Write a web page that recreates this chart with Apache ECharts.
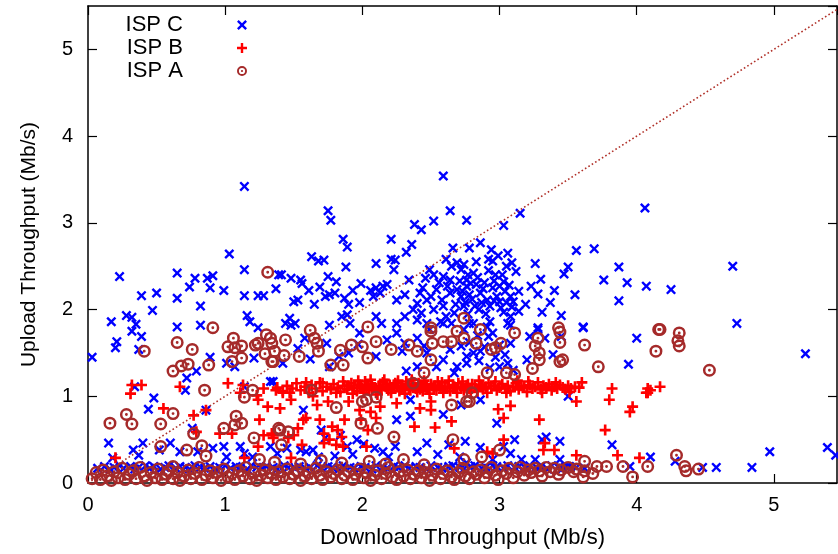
<!DOCTYPE html>
<html>
<head>
<meta charset="utf-8">
<script src="https://cdn.jsdelivr.net/npm/echarts@6/dist/echarts.min.js"></script>
<style>html,body{margin:0;padding:0;background:#fff}#c{width:838px;height:554px}</style>
</head>
<body>
<div id="c"></div>
<script>
// ---- data (Download Mb/s, Upload Mb/s) ----
const xTicks = [0, 1, 2, 3, 4, 5];
const yTicks = [0, 1, 2, 3, 4, 5];
const diagonal = [[0, 0], [5.5, 5.5]];

const ispC_upper = [[1.14,3.42],[0.23,2.38],[0.65,2.42],[0.78,2.36],[0.87,2.36],[0.91,2.39],[0.74,2.26],[0.89,2.25],[0.99,2.22],[1.03,2.64],[1.14,2.46],[0.39,2.16],[0.50,2.19],[0.65,2.13],[0.82,2.04],[0.47,1.99],[1.14,2.16],[1.24,2.16],[1.28,2.16],[1.37,2.24],[1.39,2.40],[0.17,1.86],[0.28,1.93],[0.32,1.91],[0.35,1.83],[0.65,1.80],[0.82,1.82],[1.16,1.93],[1.18,1.86],[1.24,1.79],
[2.59,3.54],[1.75,3.14],[1.77,3.03],[2.64,3.14],[2.76,3.03],[2.38,2.98],[2.43,2.92],[2.52,3.02],[1.86,2.81],[1.89,2.72],[2.21,2.81],[2.36,2.75],[2.32,2.66],[2.66,2.71],[1.63,2.61],[1.68,2.56],[1.72,2.57],[1.88,2.49],[2.10,2.53],[2.21,2.58],[2.24,2.57],[2.23,2.46],[1.41,2.40],[1.48,2.36],[1.55,2.34],[1.56,2.30],[1.61,2.22],[1.69,2.26],[1.75,2.38],[1.81,2.32],[1.93,2.22],[1.99,2.30],[2.06,2.22],[2.10,2.25],[2.15,2.27],[2.34,2.34],[2.49,2.46],[2.52,2.40],[2.61,2.58],[2.65,2.50],[2.69,2.54],[2.59,2.38],[2.64,2.34],[2.72,2.46],[2.77,2.40],[1.50,2.09],[1.53,2.11],[1.65,2.06],[1.73,2.15],[1.76,2.17],[1.80,2.19],[1.87,2.13],[1.90,2.06],[1.98,2.08],[2.08,2.15],[2.13,2.19],[2.18,2.29],[2.25,2.11],[2.31,2.17],[2.42,2.19],[2.44,2.25],[2.47,2.11],[2.54,2.23],[2.58,2.11],[2.64,2.19],[2.69,2.23],[2.72,2.15],[2.76,2.27],[2.37,2.00],[2.43,1.96],[2.52,2.00],[2.59,2.04],[2.61,1.92],[2.67,1.96],[2.74,2.04],[1.44,1.84],[1.51,1.84],[1.47,1.90],[1.89,1.94],[1.91,1.84],[2.10,1.92],[2.14,1.84],[2.25,1.84],[2.31,1.92],[1.76,1.82],[1.85,1.92],[2.40,1.88],[2.47,1.84],[2.57,1.86],[2.65,1.84],
[4.06,3.17],[3.15,3.11],[3.03,2.97],[2.86,2.77],[2.78,2.71],[2.94,2.69],[3.06,2.65],[3.56,2.68],[3.69,2.70],[2.92,2.58],[2.95,2.56],[3.09,2.54],[3.05,2.50],[3.26,2.53],[3.50,2.49],[3.47,2.41],[3.87,2.49],[3.76,2.34],[3.93,2.31],[4.07,2.27],[3.87,2.10],[3.55,2.17],[3.40,2.22],[3.30,2.35],[3.23,2.27],[3.28,2.18],[3.37,2.08],[3.31,1.97],[3.45,1.93],[3.61,1.80],[3.28,1.79],[3.19,2.06],[3.14,1.98],[3.08,1.92],[3.06,1.84],[2.93,1.86],[2.81,1.84],[2.81,2.42],[2.76,2.34],[2.83,2.29],[2.89,2.31],[2.97,2.40],[3.00,2.27],[3.04,2.21],[3.08,2.15],[2.98,2.15],[2.91,2.11],[2.86,2.19],[2.78,2.17],[2.75,2.08],[2.82,2.04],[2.93,2.04],[3.01,2.02],[3.10,2.09],[2.95,2.25],[3.03,2.32],[2.73,2.21],[2.87,2.08],[3.05,2.08],[3.00,2.09],
[4.70,2.50],[4.25,2.23],[4.73,1.84]];

const ispC_cluster = [[2.79,2.30],[2.84,2.37],[2.88,2.24],[2.92,2.45],[2.96,2.33],[3.02,2.40],[3.07,2.28],[2.80,2.12],[2.85,2.00],[2.90,1.95],[2.96,2.10],[3.03,1.97],[3.09,2.03],[2.77,1.95],[2.71,2.33],[2.74,2.52],[2.83,2.55],[2.99,2.62],[3.12,2.44],[3.14,2.21],[2.68,2.06],[2.62,2.27],[2.56,2.31],[2.50,2.15],[2.46,2.36],[2.40,2.07],
[1.98,1.73],[2.49,1.77],[2.59,1.84],[2.74,1.77],[2.40,1.67],[2.31,1.61],[2.18,1.65],[2.64,1.54],[2.72,1.58],[2.45,1.58],[2.78,1.62],[2.84,1.70],[2.95,1.73],[2.89,1.57],[3.04,1.48],[2.97,1.45],[2.85,1.41],[3.10,1.30],[2.93,1.33],[1.58,1.67],[1.53,1.55],[1.83,1.46],[1.97,1.60]];

const ispC_mid = [[0.32,1.75],[0.39,1.69],[0.21,1.63],[0.20,1.56],[0.37,1.54],[0.03,1.45],[0.89,1.45],[1.01,1.38],[1.07,1.34],[0.79,1.29],[0.72,1.21],[0.71,1.07],[0.34,1.11],[0.48,0.98],[0.44,0.85],[0.86,0.84],[0.76,0.63],[0.15,0.46],[0.33,0.38],[0.40,0.46],[0.37,0.32],[0.52,0.38],[0.60,0.46],[0.67,0.36],[0.80,0.36],[0.91,0.40],[0.99,0.42],[1.01,0.30],[1.11,0.42],[1.14,0.34],[1.20,0.30],[1.33,1.17],[1.21,1.44],[1.14,1.11],[1.33,0.42],[1.38,0.34],[0.18,0.29],
[1.62,1.43],[1.74,1.61],[1.76,1.34],[1.42,1.38],[1.90,1.50],[2.10,1.46],[1.48,1.82],[2.25,1.73],[2.29,1.52],[2.32,1.29],[2.40,1.34],[2.47,1.50],[2.59,1.42],[2.69,1.34],[2.76,1.46],[2.67,1.27],[2.54,1.34],[2.35,0.96],[2.25,0.73],[2.35,0.77],[2.59,0.79],[1.57,0.84],[1.35,1.17],[1.89,0.42],[1.96,0.50],[1.73,0.52],[1.64,0.38],[1.59,0.36],[1.55,0.38],[2.09,0.40],[2.15,0.36],[2.24,0.42],[2.47,0.46],[2.40,0.36],[2.71,0.30],[2.76,0.23],[1.70,0.61],[1.93,0.33],[2.01,0.45],[1.80,0.31],[2.55,0.33],[2.63,0.44],[2.86,0.41],[1.45,0.40],[1.68,0.30],[1.84,0.55],[2.19,0.30],
[3.61,1.79],[4.00,1.67],[3.94,1.37],[3.39,1.48],[3.28,1.77],[3.22,1.69],[3.45,1.69],[3.50,1.00],[2.98,0.69],[2.86,0.96],[2.72,0.90],[2.78,1.84],[2.91,1.80],[3.08,1.82],[2.92,1.69],[3.00,1.59],[3.08,1.61],[2.81,1.50],[2.86,1.52],[2.76,1.38],[3.06,1.38],[3.00,1.34],[3.20,1.42],[3.33,1.67],[2.75,0.48],[3.11,0.50],[3.08,0.34],[3.03,0.42],[3.16,0.27],[3.31,0.50],[3.34,0.53],[3.44,0.48],[3.44,0.27],[3.49,0.19],[3.82,0.44],[3.95,0.19],[4.10,0.30],[3.26,0.27],[2.95,0.27],
[5.23,1.49],[4.28,0.25],[4.48,0.18],[4.58,0.18],[4.84,0.18],[4.97,0.36],[5.39,0.41],[5.45,0.32]];

const ispC_band = [[0.07,0.17],[0.12,0.19],[0.16,0.16],[0.19,0.18],[0.23,0.2],[0.26,0.17],[0.31,0.19],[0.34,0.16],[0.37,0.18],[0.42,0.2],[0.45,0.17],[0.48,0.19],[0.53,0.16],[0.56,0.18],[0.59,0.2],[0.64,0.17],[0.67,0.19],[0.71,0.18],[0.74,0.16],[0.78,0.2],[0.82,0.18],[0.85,0.17],[0.89,0.19],[0.93,0.16],[0.96,0.18],[1.0,0.2],[1.04,0.17],[1.08,0.19],[1.11,0.18],[1.16,0.16],[1.19,0.2],[1.23,0.18],[1.27,0.17],[1.30,0.19],[1.35,0.18],[1.38,0.16],[1.43,0.2],[1.46,0.18],[1.51,0.17],[1.54,0.19],[1.59,0.16],[1.62,0.18],[1.67,0.2],[1.70,0.17],[1.75,0.19],[1.78,0.18],[1.83,0.16],[1.86,0.2],[1.91,0.18],[1.94,0.17],[1.99,0.19],[2.02,0.18],[2.07,0.16],[2.10,0.2],[2.15,0.18],[2.18,0.17],[2.23,0.19],[2.26,0.18],[2.31,0.2],[2.34,0.17],[2.39,0.19],[2.42,0.18],[2.47,0.16],[2.50,0.2],[2.55,0.18],[2.58,0.17],[2.63,0.19],[2.66,0.2],[2.71,0.18],[2.74,0.16],[2.79,0.19],[2.82,0.2],[2.87,0.17],[2.90,0.18],[2.95,0.2],[2.98,0.19],[3.03,0.17],[3.06,0.2],[3.11,0.18],[3.14,0.19],[3.19,0.17],[3.22,0.2],[3.27,0.18],[3.30,0.19],[3.35,0.16],[3.38,0.2],[3.43,0.18],[3.46,0.17],[3.51,0.19],[3.56,0.18],[3.62,0.17]];

const ispB_scatter = [[0.32,1.13],[0.39,1.13],[0.31,1.03],[0.67,1.11],[0.86,0.84],[0.55,0.86],[0.77,0.78],[1.02,1.15],[1.13,1.13],[1.28,1.09],[1.37,1.07],[1.11,1.04],[1.23,1.01],[1.24,0.96],[1.31,0.88],[1.25,0.73],[0.79,0.59],[0.96,0.57],[1.05,0.57],[1.28,0.55],[1.34,0.57],[1.35,0.52],[1.24,0.42],[0.20,0.29],[1.14,0.29],
[1.40,0.86],[1.48,0.96],[1.57,0.73],[1.53,0.63],[1.59,0.75],[1.69,0.73],[1.72,0.57],[1.78,0.65],[1.82,0.61],[1.85,0.53],[1.87,0.73],[1.76,0.50],[1.72,0.46],[1.81,0.44],[1.86,0.42],[1.67,0.90],[1.75,0.94],[1.90,0.94],[1.98,0.84],[2.06,0.82],[2.10,0.75],[1.99,0.73],[2.04,0.61],[2.13,0.88],[2.25,0.92],[2.42,0.86],[2.50,0.94],[2.50,0.84],[2.38,0.65],[2.53,0.64],[2.65,0.71],[1.50,0.55],[1.46,0.52],[1.35,0.55],[1.56,0.44],[1.48,0.29],[2.03,0.42],[2.67,0.40],[1.64,1.00],[1.42,1.04],
[3.60,1.16],[3.56,0.94],[3.80,0.96],[3.82,1.09],[4.08,1.09],[4.07,1.04],[4.17,1.11],[3.97,0.88],[3.95,0.82],[3.77,0.61],[3.29,0.73],[3.03,0.75],[2.99,0.85],[3.08,0.89],[3.03,0.50],[2.91,0.36],[2.95,0.34],[3.33,0.46],[3.32,0.38],[3.40,0.38],[3.56,0.32],[3.86,0.32],[4.02,0.29],[4.10,1.07],[4.08,1.04]];

const ispB_band = [[1.38,1.10],[1.42,1.06],[1.45,1.12],[1.49,1.09],[1.52,1.15],[1.55,1.07],[1.58,1.11],[1.61,1.04],[1.63,1.13],[1.66,1.09],[1.69,1.16],[1.71,1.06],[1.74,1.11],[1.77,1.08],[1.79,1.14],[1.82,1.10],[1.84,1.05],[1.87,1.12],[1.89,1.08],[1.92,1.15],[1.94,1.10],[1.96,1.06],[1.98,1.13],[2.00,1.09],[2.02,1.17],[2.03,1.11],[2.05,1.07],[2.07,1.14],[2.09,1.10],[2.10,1.05],[2.12,1.12],[2.14,1.08],[2.15,1.16],[2.17,1.11],[2.19,1.07],[2.20,1.13],[2.22,1.09],[2.24,1.15],[2.25,1.11],[2.27,1.06],[2.29,1.12],[2.30,1.09],[2.32,1.17],[2.34,1.10],[2.35,1.07],[2.37,1.13],[2.39,1.09],[2.41,1.15],[2.43,1.11],[2.44,1.06],[2.46,1.13],[2.48,1.08],[2.50,1.14],[2.52,1.10],[2.54,1.07],[2.56,1.12],[2.58,1.16],[2.60,1.09],[2.62,1.11],[2.64,1.06],[2.66,1.13],[2.68,1.09],[2.70,1.15],[2.72,1.10],[2.74,1.07],[2.76,1.12],[2.78,1.09],[2.80,1.14],[2.82,1.10],[2.84,1.06],[2.86,1.13],[2.88,1.08],[2.90,1.11],[2.92,1.15],[2.94,1.09],[2.96,1.12],[2.98,1.07],[3.00,1.10],[3.02,1.14],[3.04,1.09],[3.06,1.12],[3.08,1.06],[3.10,1.11],[3.12,1.15],[3.14,1.08],[3.16,1.12],[3.18,1.10],[3.20,1.05],[3.22,1.13],[3.24,1.09],[3.26,1.11],[3.28,1.16],[3.30,1.08],[3.32,1.12],[3.34,1.10],[3.36,1.14],[3.38,1.07],[3.40,1.11],[3.42,1.09],[3.44,1.13],[3.46,1.10],[3.48,1.08],[3.50,1.12],[3.52,1.09],[3.55,1.11],[3.58,1.10],
[1.93,1.03],[1.97,1.18],[2.01,1.04],[2.06,1.19],[2.11,1.02],[2.16,1.19],[2.21,1.04],[2.26,1.18],[2.31,1.03],[2.36,1.19],[2.40,1.05],[2.45,1.18],[2.49,1.03],[2.55,1.17],[2.59,1.04],[2.63,1.18],[2.69,1.04],[2.73,1.17],[2.79,1.05],[2.85,1.18],[2.91,1.04],[2.97,1.17],[3.05,1.04],[3.13,1.18],[3.21,1.17],[3.31,1.04],[3.41,1.16],[3.51,1.05],[1.71,1.15],[1.81,1.04],[1.86,1.17],[1.59,1.16],[1.47,1.04],[2.04,1.13],[2.13,1.09],[2.23,1.12],[2.33,1.14],[2.42,1.08],[2.53,1.12],[2.67,1.11],[2.77,1.14],[2.87,1.11],[2.57,1.10],[2.28,1.10],[2.18,1.14],[2.08,1.10],[2.38,1.11],[2.47,1.10],[1.99,1.11],[1.90,1.12]];

const ispA_scatter = [[1.31,2.43],[0.91,1.79],[2.74,1.90],[2.50,1.79],[3.43,1.79],
[0.65,1.62],[0.76,1.54],[0.41,1.52],[0.62,1.29],[0.68,1.35],[0.73,1.37],[0.88,1.36],[1.06,1.67],[1.02,1.57],[1.07,1.56],[1.12,1.58],[1.05,1.40],[1.12,1.44],[1.30,1.71],[1.33,1.67],[1.22,1.59],[1.24,1.61],[1.34,1.61],[1.29,1.49],[1.34,1.40],[0.85,1.07],[1.20,1.07],[1.14,0.99],[0.28,0.79],[0.32,0.68],[0.62,0.80],[0.53,0.68],[0.16,0.69],[0.77,0.57],[0.99,0.63],[1.08,0.77],[1.07,0.67],[1.12,0.69],[0.53,0.42],[0.83,0.43],[0.86,0.31],[1.21,0.52],[1.25,0.27],[1.39,0.63],[0.62,0.19],[0.72,0.38],
[1.62,1.76],[1.44,1.65],[1.65,1.67],[1.67,1.61],[1.68,1.52],[1.36,1.52],[1.43,1.47],[1.54,1.46],[1.35,1.40],[1.84,1.53],[1.92,1.59],[2.00,1.57],[2.04,1.80],[2.10,1.63],[1.77,1.36],[1.86,1.36],[2.04,1.44],[2.21,1.54],[2.34,1.59],[2.40,1.52],[2.51,1.61],[2.50,1.42],[2.59,1.63],[2.65,1.63],[2.74,1.67],[2.50,1.75],[2.69,1.75],[2.45,1.27],[1.63,1.07],[1.81,0.87],[2.00,0.94],[2.03,0.96],[2.10,0.99],[1.99,0.69],[2.11,0.63],[1.40,0.61],[1.46,0.59],[1.41,0.44],[2.23,0.53],[2.65,0.90],[2.76,0.94],[2.66,0.50],[2.37,1.15],
[2.86,1.77],[3.11,1.73],[3.44,1.74],[3.44,1.62],[3.62,1.59],[3.28,1.67],[3.26,1.58],[3.29,1.50],[3.29,1.42],[3.24,1.32],[3.44,1.40],[3.46,1.42],[3.72,1.34],[3.01,1.61],[2.97,1.56],[2.94,1.54],[2.83,1.61],[2.91,1.27],[3.05,1.27],[3.11,1.25],[4.14,1.52],[4.16,1.77],[2.80,1.04],[2.78,0.94],[3.00,0.38],[2.74,0.27],[2.87,0.30],[3.62,0.25],[3.71,0.19],[3.78,0.19],[3.90,0.19],[4.08,0.19],[3.97,0.07],[3.54,0.13],[3.68,0.11],
[4.17,1.77],[4.31,1.73],[4.30,1.64],[4.31,1.58],[4.53,1.30],[4.29,0.32],[4.35,0.19],[4.36,0.14],[4.45,0.16],
[1.36,0.24],[1.55,0.22],[1.70,0.26],[1.85,0.23],[2.05,0.25],[2.17,0.22],[2.30,0.27],[2.45,0.21]];

const ispA_band = [[0.03,0.05],[0.06,0.12],[0.09,0.04],[0.11,0.15],[0.14,0.08],[0.17,0.03],[0.19,0.13],[0.22,0.06],[0.25,0.17],[0.27,0.04],[0.30,0.10],[0.33,0.14],[0.35,0.05],[0.38,0.18],[0.41,0.08],[0.43,0.03],[0.46,0.12],[0.49,0.06],[0.51,0.16],[0.54,0.04],[0.57,0.10],[0.59,0.14],[0.62,0.05],[0.65,0.12],[0.67,0.03],[0.70,0.08],[0.73,0.15],[0.75,0.05],[0.78,0.11],[0.81,0.18],[0.83,0.04],[0.86,0.09],[0.89,0.14],[0.91,0.06],[0.94,0.12],[0.97,0.03],[0.99,0.16],[1.02,0.07],[1.05,0.11],[1.07,0.04],[1.10,0.14],[1.13,0.08],[1.15,0.18],[1.18,0.05],[1.21,0.12],[1.23,0.03],[1.26,0.09],[1.29,0.15],[1.31,0.06],[1.34,0.11],[1.37,0.04],[1.39,0.13],[1.42,0.07],[1.45,0.16],[1.47,0.05],[1.50,0.10],[1.53,0.14],[1.55,0.03],[1.58,0.08],[1.61,0.12],[1.63,0.05],[1.66,0.17],[1.69,0.09],[1.71,0.04],[1.74,0.13],[1.77,0.07],[1.79,0.11],[1.82,0.15],[1.85,0.05],[1.87,0.09],[1.90,0.13],[1.93,0.04],[1.95,0.10],[1.98,0.16],[2.01,0.06],[2.03,0.12],[2.06,0.03],[2.09,0.09],[2.11,0.14],[2.14,0.05],[2.17,0.11],[2.19,0.18],[2.22,0.07],[2.25,0.04],[2.27,0.13],[2.30,0.08],[2.33,0.15],[2.35,0.05],[2.38,0.10],[2.41,0.14],[2.43,0.06],[2.46,0.12],[2.49,0.03],[2.51,0.09],[2.54,0.16],[2.57,0.05],[2.59,0.11],[2.62,0.14],[2.65,0.07],[2.67,0.04],[2.70,0.12],[2.73,0.17],[2.75,0.08],[2.78,0.05],[2.81,0.13],[2.83,0.10],[2.86,0.15],[2.89,0.06],[2.91,0.12],[2.94,0.18],[2.97,0.09],[2.99,0.04],[3.02,0.14],[3.05,0.11],[3.07,0.17],[3.10,0.06],[3.13,0.13],[3.15,0.18],[3.18,0.09],[3.21,0.15],[3.23,0.12],[3.26,0.17],[3.29,0.14],[3.31,0.08],[3.34,0.18],[3.37,0.13],[3.40,0.17],[3.43,0.10],[3.45,0.15],[3.50,0.18],[3.56,0.16],[3.61,0.07],[3.62,0.14]];

const seriesNames = ['ISP C', 'ISP B', 'ISP A'];

// ---- rendering ----
const FONT = '"Liberation Sans", Arial, Helvetica, sans-serif';
const X_MAX = 5.46, Y_MAX = 5.5;
const crossPath = 'path://M0,1.7L1.7,0L5,3.3L8.3,0L10,1.7L6.7,5L10,8.3L8.3,10L5,6.7L1.7,10L0,8.3L3.3,5Z';
const plusPath = 'path://M3.8,0L6.2,0L6.2,3.8L10,3.8L10,6.2L6.2,6.2L6.2,10L3.8,10L3.8,6.2L0,6.2L0,3.8L3.8,3.8Z';
const ringPath = 'path://M12,2A10,10 0 1,1 12,22A10,10 0 1,1 12,2ZM12,5.8A6.2,6.2 0 1,0 12,18.2A6.2,6.2 0 1,0 12,5.8ZM12,9.8A2.2,2.2 0 1,1 12,14.2A2.2,2.2 0 1,1 12,9.8Z';

const chart = echarts.init(document.getElementById('c'), null, {renderer: 'canvas'});

function baseAxis(extra) {
  return Object.assign({
    type: 'value', min: 0, interval: 1,
    splitLine: {show: false},
    axisLine: {show: true, onZero: false, lineStyle: {color: '#000', width: 1.5}},
    axisTick: {show: true, inside: true, length: 9, lineStyle: {color: '#000', width: 1.2}},
  }, extra);
}

const option = {
  backgroundColor: '#fff',
  animation: false,
  textStyle: {fontFamily: FONT},
  grid: {left: 88, top: 6, right: 1, bottom: 71, containLabel: false},
  legend: {
    orient: 'vertical', align: 'right', right: 586, top: 9, padding: 5,
    itemWidth: 10, itemHeight: 10, itemGap: 1,
    textStyle: {fontSize: 22, color: '#000', fontFamily: FONT, padding: [0, 49, 0, 0]},
    data: [
      {name: seriesNames[0], icon: crossPath},
      {name: seriesNames[1], icon: plusPath},
      {name: seriesNames[2], icon: ringPath}
    ]
  },
  xAxis: [
    baseAxis({max: X_MAX, position: 'bottom',
      name: 'Download Throughput (Mb/s)', nameLocation: 'middle', nameGap: 44,
      nameTextStyle: {fontSize: 22, color: '#000', fontFamily: FONT},
      axisLabel: {fontSize: 20, color: '#000', margin: 12, showMaxLabel: false, fontFamily: FONT,
        formatter: v => xTicks.indexOf(v) >= 0 ? String(v) : ''}}),
    baseAxis({max: X_MAX, position: 'top', axisLabel: {show: false}})
  ],
  yAxis: [
    baseAxis({max: Y_MAX, position: 'left',
      name: 'Upload Throughput (Mb/s)', nameLocation: 'middle', nameGap: 48,
      nameTextStyle: {fontSize: 21, color: '#000', fontFamily: FONT},
      axisLabel: {fontSize: 20, color: '#000', margin: 15, showMaxLabel: false, fontFamily: FONT,
        formatter: v => yTicks.indexOf(v) >= 0 ? String(v) : ''}}),
    baseAxis({max: Y_MAX, position: 'right', axisLabel: {show: false}})
  ],
  series: [
    {name: seriesNames[0], type: 'scatter', symbol: crossPath, symbolSize: 10,
      itemStyle: {color: '#0000ff', opacity: 1}, data: ispC_upper.concat(ispC_cluster, ispC_mid, ispC_band), z: 2},
    {name: seriesNames[1], type: 'scatter', symbol: plusPath, symbolSize: 11,
      itemStyle: {color: '#ff0000', opacity: 1}, data: ispB_scatter.concat(ispB_band), z: 3},
    {name: seriesNames[2], type: 'scatter', symbol: ringPath, symbolSize: 13,
      itemStyle: {color: '#a52a2a', opacity: 1}, data: ispA_scatter.concat(ispA_band), z: 4},
    {name: 'diagonal', type: 'line', data: diagonal, symbol: 'none', silent: true, z: 5,
      lineStyle: {color: '#b03028', width: 1.6, type: [1.6, 2.4]}}
  ]
};
chart.setOption(option);
</script>
</body>
</html>
